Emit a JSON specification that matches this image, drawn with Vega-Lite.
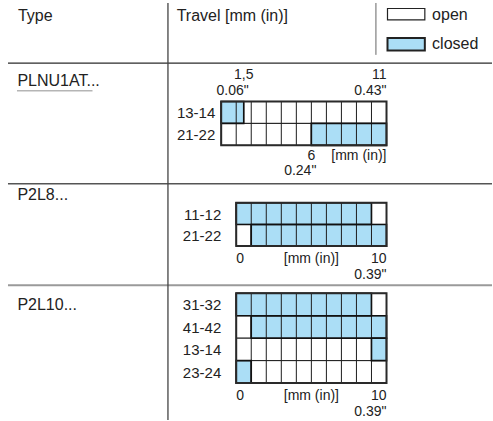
{
  "$schema": "https://vega.github.io/schema/vega-lite/v6.json",
  "width": 493,
  "height": 421,
  "padding": 0,
  "autosize": {"type": "fit", "contains": "padding"},
  "background": "white",
  "config": {"view": {"stroke": null}, "text": {"font": "Liberation Sans", "color": "#222222"}},
  "datasets": {
    "types": [
      {"type": "PLNU1AT...", "travel": 11, "contacts": ["13-14", "21-22"], "divisions": [1, 2, 3, 4, 5, 6, 7, 8, 9, 10]},
      {"type": "P2L8...", "travel": 10, "contacts": ["11-12", "21-22"], "divisions": [1, 2, 3, 4, 5, 6, 7, 8, 9]},
      {"type": "P2L10...", "travel": 10, "contacts": ["31-32", "41-42", "13-14", "23-24"], "divisions": [1, 2, 3, 4, 5, 6, 7, 8, 9]}
    ],
    "segments": [
      {"type": "PLNU1AT...", "contact": "13-14", "from": 0, "to": 1.5, "state": "closed"},
      {"type": "PLNU1AT...", "contact": "13-14", "from": 1.5, "to": 11, "state": "open"},
      {"type": "PLNU1AT...", "contact": "21-22", "from": 0, "to": 6, "state": "open"},
      {"type": "PLNU1AT...", "contact": "21-22", "from": 6, "to": 11, "state": "closed"},
      {"type": "P2L8...", "contact": "11-12", "from": 0, "to": 9, "state": "closed"},
      {"type": "P2L8...", "contact": "11-12", "from": 9, "to": 10, "state": "open"},
      {"type": "P2L8...", "contact": "21-22", "from": 0, "to": 1, "state": "open"},
      {"type": "P2L8...", "contact": "21-22", "from": 1, "to": 10, "state": "closed"},
      {"type": "P2L10...", "contact": "31-32", "from": 0, "to": 9, "state": "closed"},
      {"type": "P2L10...", "contact": "31-32", "from": 9, "to": 10, "state": "open"},
      {"type": "P2L10...", "contact": "41-42", "from": 0, "to": 1, "state": "open"},
      {"type": "P2L10...", "contact": "41-42", "from": 1, "to": 10, "state": "closed"},
      {"type": "P2L10...", "contact": "13-14", "from": 0, "to": 9, "state": "open"},
      {"type": "P2L10...", "contact": "13-14", "from": 9, "to": 10, "state": "closed"},
      {"type": "P2L10...", "contact": "23-24", "from": 0, "to": 1, "state": "closed"},
      {"type": "P2L10...", "contact": "23-24", "from": 1, "to": 10, "state": "open"}
    ],
    "annotations": [
      {"type": "PLNU1AT...", "text": "1,5", "at": 1.5, "side": "above", "line": 1},
      {"type": "PLNU1AT...", "text": "0.06\"", "at": 1.5, "side": "above", "line": 2},
      {"type": "PLNU1AT...", "text": "11", "at": 11, "side": "above", "line": 1},
      {"type": "PLNU1AT...", "text": "0.43\"", "at": 11, "side": "above", "line": 2},
      {"type": "PLNU1AT...", "text": "6", "at": 6, "side": "below", "line": 1},
      {"type": "PLNU1AT...", "text": "0.24\"", "at": 6, "side": "below", "line": 2},
      {"type": "PLNU1AT...", "text": "[mm (in)]", "at": 11, "side": "below", "line": 1},
      {"type": "P2L8...", "text": "0", "at": 0, "side": "below", "line": 1},
      {"type": "P2L8...", "text": "[mm (in)]", "at": 5, "side": "below", "line": 1},
      {"type": "P2L8...", "text": "10", "at": 10, "side": "below", "line": 1},
      {"type": "P2L8...", "text": "0.39\"", "at": 10, "side": "below", "line": 2},
      {"type": "P2L10...", "text": "0", "at": 0, "side": "below", "line": 1},
      {"type": "P2L10...", "text": "[mm (in)]", "at": 5, "side": "below", "line": 1},
      {"type": "P2L10...", "text": "10", "at": 10, "side": "below", "line": 1},
      {"type": "P2L10...", "text": "0.39\"", "at": 10, "side": "below", "line": 2}
    ],
    "legend": [{"state": "open"}, {"state": "closed"}],
    "headers": [{"column": "type", "label": "Type"}, {"column": "travel", "label": "Travel [mm (in)]"}],
    "one": [{}]
  },
  "layer": [
    {
      "data": {"name": "segments"},
      "transform": [
        {"lookup": "type", "from": {"data": {"name": "types"}, "key": "type", "fields": ["travel", "contacts"]}},
        {"calculate": "10 - datum.travel", "as": "shift"},
        {"calculate": "datum.type==='PLNU1AT...'?4.581:(datum.type==='P2L8...'?9.158:13.243)", "as": "top"},
        {"calculate": "datum.type==='PLNU1AT...'?0.991:(datum.type==='P2L8...'?0.977:1.0135)", "as": "rh"},
        {"calculate": "indexof(datum.contacts, datum.contact)", "as": "row"},
        {"calculate": "datum.from + datum.shift", "as": "xa"},
        {"calculate": "datum.to + datum.shift", "as": "xb"},
        {"calculate": "datum.top + datum.row * datum.rh", "as": "ya"},
        {"calculate": "datum.top + (datum.row + 1) * datum.rh", "as": "yb"}
      ],
      "mark": {"type": "rect", "stroke": "#1e1e1e", "strokeWidth": 1},
      "encoding": {
        "x": {"field": "xa", "type": "quantitative", "scale": {"domain": [-15.717, 17.019], "nice": false, "zero": false}, "axis": null},
        "x2": {"field": "xb"},
        "y": {"field": "ya", "type": "quantitative", "scale": {"domain": [0, 18.964], "nice": false, "zero": false, "reverse": true}, "axis": null},
        "y2": {"field": "yb"},
        "fill": {"field": "state", "type": "nominal", "scale": {"domain": ["open", "closed"], "range": ["#ffffff", "#abdef6"]}, "legend": null}
      }
    },
    {
      "data": {"name": "types"},
      "transform": [
        {"calculate": "length(datum.contacts)", "as": "n"},
        {"flatten": ["divisions"], "as": ["division"]},
        {"calculate": "10 - datum.travel", "as": "shift"},
        {"calculate": "datum.type==='PLNU1AT...'?4.581:(datum.type==='P2L8...'?9.158:13.243)", "as": "top"},
        {"calculate": "datum.type==='PLNU1AT...'?0.991:(datum.type==='P2L8...'?0.977:1.0135)", "as": "rh"},
        {"calculate": "datum.division + datum.shift", "as": "xa"},
        {"calculate": "datum.top + datum.n * datum.rh", "as": "yb"}
      ],
      "mark": {"type": "rule", "stroke": "#1e1e1e", "strokeWidth": 1},
      "encoding": {
        "x": {"field": "xa", "type": "quantitative", "scale": {"domain": [-15.717, 17.019], "nice": false, "zero": false}, "axis": null},
        "y": {"field": "top", "type": "quantitative", "scale": {"domain": [0, 18.964], "nice": false, "zero": false, "reverse": true}, "axis": null},
        "y2": {"field": "yb"}
      }
    },
    {
      "data": {"name": "segments"},
      "transform": [
        {"filter": "datum.state === 'closed'"},
        {"lookup": "type", "from": {"data": {"name": "types"}, "key": "type", "fields": ["travel", "contacts"]}},
        {"calculate": "10 - datum.travel", "as": "shift"},
        {"calculate": "datum.type==='PLNU1AT...'?4.581:(datum.type==='P2L8...'?9.158:13.243)", "as": "top"},
        {"calculate": "datum.type==='PLNU1AT...'?0.991:(datum.type==='P2L8...'?0.977:1.0135)", "as": "rh"},
        {"calculate": "indexof(datum.contacts, datum.contact)", "as": "row"},
        {"calculate": "datum.from + datum.shift", "as": "xa"},
        {"calculate": "datum.to + datum.shift", "as": "xb"},
        {"calculate": "datum.top + datum.row * datum.rh", "as": "ya"},
        {"calculate": "datum.top + (datum.row + 1) * datum.rh", "as": "yb"}
      ],
      "mark": {"type": "rect", "fill": null, "fillOpacity": 0, "stroke": "#111111", "strokeWidth": 1.6},
      "encoding": {
        "x": {"field": "xa", "type": "quantitative", "scale": {"domain": [-15.717, 17.019], "nice": false, "zero": false}, "axis": null},
        "x2": {"field": "xb"},
        "y": {"field": "ya", "type": "quantitative", "scale": {"domain": [0, 18.964], "nice": false, "zero": false, "reverse": true}, "axis": null},
        "y2": {"field": "yb"}
      }
    },
    {
      "data": {"name": "types"},
      "transform": [
        {"calculate": "length(datum.contacts)", "as": "n"},
        {"calculate": "10 - datum.travel", "as": "shift"},
        {"calculate": "datum.type==='PLNU1AT...'?4.581:(datum.type==='P2L8...'?9.158:13.243)", "as": "top"},
        {"calculate": "datum.type==='PLNU1AT...'?0.991:(datum.type==='P2L8...'?0.977:1.0135)", "as": "rh"},
        {"calculate": "datum.travel + datum.shift", "as": "xb"},
        {"calculate": "datum.top + datum.n * datum.rh", "as": "yb"}
      ],
      "mark": {"type": "rect", "fill": null, "fillOpacity": 0, "stroke": "#2a2a2a", "strokeWidth": 2},
      "encoding": {
        "x": {"field": "shift", "type": "quantitative", "scale": {"domain": [-15.717, 17.019], "nice": false, "zero": false}, "axis": null},
        "x2": {"field": "xb"},
        "y": {"field": "top", "type": "quantitative", "scale": {"domain": [0, 18.964], "nice": false, "zero": false, "reverse": true}, "axis": null},
        "y2": {"field": "yb"}
      }
    },
    {
      "data": {"name": "segments"},
      "transform": [
        {"filter": "datum.from === 0"},
        {"lookup": "type", "from": {"data": {"name": "types"}, "key": "type", "fields": ["travel", "contacts"]}},
        {"calculate": "10 - datum.travel", "as": "shift"},
        {"calculate": "datum.type==='PLNU1AT...'?4.581:(datum.type==='P2L8...'?9.158:13.243)", "as": "top"},
        {"calculate": "datum.type==='PLNU1AT...'?0.991:(datum.type==='P2L8...'?0.977:1.0135)", "as": "rh"},
        {"calculate": "indexof(datum.contacts, datum.contact)", "as": "row"},
        {"calculate": "datum.shift + (datum.type==='PLNU1AT...' ? -0.394 : -0.996)", "as": "xl"},
        {"calculate": "datum.top + (datum.row + 0.5) * datum.rh + 0.04", "as": "yl"}
      ],
      "mark": {"type": "text", "align": "right", "baseline": "middle", "fontSize": 15},
      "encoding": {
        "x": {"field": "xl", "type": "quantitative", "scale": {"domain": [-15.717, 17.019], "nice": false, "zero": false}, "axis": null},
        "y": {"field": "yl", "type": "quantitative", "scale": {"domain": [0, 18.964], "nice": false, "zero": false, "reverse": true}, "axis": null},
        "text": {"field": "contact"}
      }
    },
    {
      "data": {"name": "annotations"},
      "transform": [
        {"lookup": "type", "from": {"data": {"name": "types"}, "key": "type", "fields": ["travel", "contacts"]}},
        {"calculate": "10 - datum.travel", "as": "shift"},
        {"calculate": "datum.type==='PLNU1AT...'?4.581:(datum.type==='P2L8...'?9.158:13.243)", "as": "top"},
        {"calculate": "datum.type==='PLNU1AT...'?0.991:(datum.type==='P2L8...'?0.977:1.0135)", "as": "rh"},
        {"calculate": "datum.top + length(datum.contacts) * datum.rh", "as": "bottom"},
        {"calculate": "datum.at + datum.shift", "as": "xl"},
        {"calculate": "datum.side === 'above' ? datum.top - (datum.line === 1 ? 1.0 : 0.3) : datum.bottom + (datum.type === 'PLNU1AT...' ? (datum.line === 1 ? 0.644 : 1.342) : (datum.line === 1 ? 0.757 : 1.477))", "as": "yl"},
        {"filter": "datum.at === datum.travel"}
      ],
      "mark": {"type": "text", "align": "right", "baseline": "alphabetic", "fontSize": 14},
      "encoding": {
        "x": {"field": "xl", "type": "quantitative", "scale": {"domain": [-15.717, 17.019], "nice": false, "zero": false}, "axis": null},
        "y": {"field": "yl", "type": "quantitative", "scale": {"domain": [0, 18.964], "nice": false, "zero": false, "reverse": true}, "axis": null},
        "text": {"field": "text"}
      }
    },
    {
      "data": {"name": "annotations"},
      "transform": [
        {"lookup": "type", "from": {"data": {"name": "types"}, "key": "type", "fields": ["travel", "contacts"]}},
        {"calculate": "10 - datum.travel", "as": "shift"},
        {"calculate": "datum.type==='PLNU1AT...'?4.581:(datum.type==='P2L8...'?9.158:13.243)", "as": "top"},
        {"calculate": "datum.type==='PLNU1AT...'?0.991:(datum.type==='P2L8...'?0.977:1.0135)", "as": "rh"},
        {"calculate": "datum.top + length(datum.contacts) * datum.rh", "as": "bottom"},
        {"calculate": "datum.at + datum.shift", "as": "xl"},
        {"calculate": "datum.side === 'above' ? datum.top - (datum.line === 1 ? 1.0 : 0.3) : datum.bottom + (datum.type === 'PLNU1AT...' ? (datum.line === 1 ? 0.644 : 1.342) : (datum.line === 1 ? 0.757 : 1.477))", "as": "yl"},
        {"filter": "datum.at === 0"}
      ],
      "mark": {"type": "text", "align": "left", "baseline": "alphabetic", "fontSize": 14},
      "encoding": {
        "x": {"field": "xl", "type": "quantitative", "scale": {"domain": [-15.717, 17.019], "nice": false, "zero": false}, "axis": null},
        "y": {"field": "yl", "type": "quantitative", "scale": {"domain": [0, 18.964], "nice": false, "zero": false, "reverse": true}, "axis": null},
        "text": {"field": "text"}
      }
    },
    {
      "data": {"name": "annotations"},
      "transform": [
        {"lookup": "type", "from": {"data": {"name": "types"}, "key": "type", "fields": ["travel", "contacts"]}},
        {"calculate": "10 - datum.travel", "as": "shift"},
        {"calculate": "datum.type==='PLNU1AT...'?4.581:(datum.type==='P2L8...'?9.158:13.243)", "as": "top"},
        {"calculate": "datum.type==='PLNU1AT...'?0.991:(datum.type==='P2L8...'?0.977:1.0135)", "as": "rh"},
        {"calculate": "datum.top + length(datum.contacts) * datum.rh", "as": "bottom"},
        {"calculate": "datum.at + datum.shift", "as": "xl"},
        {"calculate": "datum.side === 'above' ? datum.top - (datum.line === 1 ? 1.0 : 0.3) : datum.bottom + (datum.type === 'PLNU1AT...' ? (datum.line === 1 ? 0.644 : 1.342) : (datum.line === 1 ? 0.757 : 1.477))", "as": "yl"},
        {"filter": "datum.at !== 0 && datum.at !== datum.travel && datum.line === 1"}
      ],
      "mark": {"type": "text", "align": "center", "baseline": "alphabetic", "fontSize": 14},
      "encoding": {
        "x": {"field": "xl", "type": "quantitative", "scale": {"domain": [-15.717, 17.019], "nice": false, "zero": false}, "axis": null},
        "y": {"field": "yl", "type": "quantitative", "scale": {"domain": [0, 18.964], "nice": false, "zero": false, "reverse": true}, "axis": null},
        "text": {"field": "text"}
      }
    },
    {
      "data": {"name": "annotations"},
      "transform": [
        {"lookup": "type", "from": {"data": {"name": "types"}, "key": "type", "fields": ["travel", "contacts"]}},
        {"calculate": "10 - datum.travel", "as": "shift"},
        {"calculate": "datum.type==='PLNU1AT...'?4.581:(datum.type==='P2L8...'?9.158:13.243)", "as": "top"},
        {"calculate": "datum.type==='PLNU1AT...'?0.991:(datum.type==='P2L8...'?0.977:1.0135)", "as": "rh"},
        {"calculate": "datum.top + length(datum.contacts) * datum.rh", "as": "bottom"},
        {"calculate": "datum.at + datum.shift", "as": "xl"},
        {"calculate": "datum.side === 'above' ? datum.top - (datum.line === 1 ? 1.0 : 0.3) : datum.bottom + (datum.type === 'PLNU1AT...' ? (datum.line === 1 ? 0.644 : 1.342) : (datum.line === 1 ? 0.757 : 1.477))", "as": "yl"},
        {"filter": "datum.at !== 0 && datum.at !== datum.travel && datum.line === 2"}
      ],
      "mark": {"type": "text", "align": "right", "baseline": "alphabetic", "fontSize": 14, "dx": 5},
      "encoding": {
        "x": {"field": "xl", "type": "quantitative", "scale": {"domain": [-15.717, 17.019], "nice": false, "zero": false}, "axis": null},
        "y": {"field": "yl", "type": "quantitative", "scale": {"domain": [0, 18.964], "nice": false, "zero": false, "reverse": true}, "axis": null},
        "text": {"field": "text"}
      }
    },
    {
      "data": {"name": "one"},
      "mark": {"type": "rule", "stroke": "#2b2b2b", "strokeWidth": 1.3},
      "encoding": {
        "x": {"datum": -15.186, "type": "quantitative", "scale": {"domain": [-15.717, 17.019], "nice": false, "zero": false}, "axis": null},
        "x2": {"datum": 17.019},
        "y": {"datum": 2.851, "type": "quantitative", "scale": {"domain": [0, 18.964], "nice": false, "zero": false, "reverse": true}, "axis": null}
      }
    },
    {
      "data": {"name": "one"},
      "mark": {"type": "rule", "stroke": "#555555", "strokeWidth": 1.5},
      "encoding": {
        "x": {"datum": -15.186, "type": "quantitative", "scale": {"domain": [-15.717, 17.019], "nice": false, "zero": false}, "axis": null},
        "x2": {"datum": 17.019},
        "y": {"datum": 8.302, "type": "quantitative", "scale": {"domain": [0, 18.964], "nice": false, "zero": false, "reverse": true}, "axis": null}
      }
    },
    {
      "data": {"name": "one"},
      "mark": {"type": "rule", "stroke": "#9a9a9a", "strokeWidth": 2},
      "encoding": {
        "x": {"datum": -15.186, "type": "quantitative", "scale": {"domain": [-15.717, 17.019], "nice": false, "zero": false}, "axis": null},
        "x2": {"datum": 17.019},
        "y": {"datum": 12.883, "type": "quantitative", "scale": {"domain": [0, 18.964], "nice": false, "zero": false, "reverse": true}, "axis": null}
      }
    },
    {
      "data": {"name": "one"},
      "mark": {"type": "rule", "stroke": "#444444", "strokeWidth": 1.3},
      "encoding": {
        "x": {"datum": -4.542, "type": "quantitative", "scale": {"domain": [-15.717, 17.019], "nice": false, "zero": false}, "axis": null},
        "y": {"datum": 0.135, "type": "quantitative", "scale": {"domain": [0, 18.964], "nice": false, "zero": false, "reverse": true}, "axis": null},
        "y2": {"datum": 18.964}
      }
    },
    {
      "data": {"name": "one"},
      "mark": {"type": "rule", "stroke": "#666666", "strokeWidth": 1},
      "encoding": {
        "x": {"datum": 9.296, "type": "quantitative", "scale": {"domain": [-15.717, 17.019], "nice": false, "zero": false}, "axis": null},
        "y": {"datum": 0.135, "type": "quantitative", "scale": {"domain": [0, 18.964], "nice": false, "zero": false, "reverse": true}, "axis": null},
        "y2": {"datum": 2.477}
      }
    },
    {
      "data": {"name": "headers"},
      "transform": [
        {"calculate": "datum.column === 'type' ? -14.522 : -3.964", "as": "xl"}
      ],
      "mark": {"type": "text", "align": "left", "baseline": "alphabetic", "fontSize": 16},
      "encoding": {
        "x": {"field": "xl", "type": "quantitative", "scale": {"domain": [-15.717, 17.019], "nice": false, "zero": false}, "axis": null},
        "y": {"datum": 0.932, "type": "quantitative", "scale": {"domain": [0, 18.964], "nice": false, "zero": false, "reverse": true}, "axis": null},
        "text": {"field": "label"}
      }
    },
    {
      "data": {"name": "types"},
      "transform": [
        {"calculate": "datum.type==='PLNU1AT...'?3.905:(datum.type==='P2L8...'?9.009:13.995)", "as": "yl"}
      ],
      "mark": {"type": "text", "align": "left", "baseline": "alphabetic", "fontSize": 16},
      "encoding": {
        "x": {"datum": -14.56, "type": "quantitative", "scale": {"domain": [-15.717, 17.019], "nice": false, "zero": false}, "axis": null},
        "y": {"field": "yl", "type": "quantitative", "scale": {"domain": [0, 18.964], "nice": false, "zero": false, "reverse": true}, "axis": null},
        "text": {"field": "type"}
      }
    },
    {
      "data": {"name": "one"},
      "mark": {"type": "rule", "stroke": "#b5b5b5", "strokeWidth": 1.5},
      "encoding": {
        "x": {"datum": -14.588, "type": "quantitative", "scale": {"domain": [-15.717, 17.019], "nice": false, "zero": false}, "axis": null},
        "x2": {"datum": -9.562},
        "y": {"datum": 4.099, "type": "quantitative", "scale": {"domain": [0, 18.964], "nice": false, "zero": false, "reverse": true}, "axis": null}
      }
    },
    {
      "data": {"name": "legend"},
      "transform": [
        {"calculate": "datum.state === 'open' ? 0.383 : 1.712", "as": "ya"},
        {"calculate": "datum.state === 'open' ? 0.901 : 2.275", "as": "yb"}
      ],
      "mark": {"type": "rect", "stroke": "#222222"},
      "encoding": {
        "x": {"datum": 10.066, "type": "quantitative", "scale": {"domain": [-15.717, 17.019], "nice": false, "zero": false}, "axis": null},
        "x2": {"datum": 12.55},
        "y": {"field": "ya", "type": "quantitative", "scale": {"domain": [0, 18.964], "nice": false, "zero": false, "reverse": true}, "axis": null},
        "y2": {"field": "yb"},
        "fill": {"field": "state", "type": "nominal", "scale": {"domain": ["open", "closed"], "range": ["#ffffff", "#abdef6"]}, "legend": null},
        "strokeWidth": {"condition": {"test": "datum.state === 'closed'", "value": 2}, "value": 1.2}
      }
    },
    {
      "data": {"name": "legend"},
      "transform": [
        {"calculate": "datum.state === 'open' ? 0.901 : 2.23", "as": "yl"}
      ],
      "mark": {"type": "text", "align": "left", "baseline": "alphabetic", "fontSize": 16},
      "encoding": {
        "x": {"datum": 13.035, "type": "quantitative", "scale": {"domain": [-15.717, 17.019], "nice": false, "zero": false}, "axis": null},
        "y": {"field": "yl", "type": "quantitative", "scale": {"domain": [0, 18.964], "nice": false, "zero": false, "reverse": true}, "axis": null},
        "text": {"field": "state"}
      }
    }
  ]
}
